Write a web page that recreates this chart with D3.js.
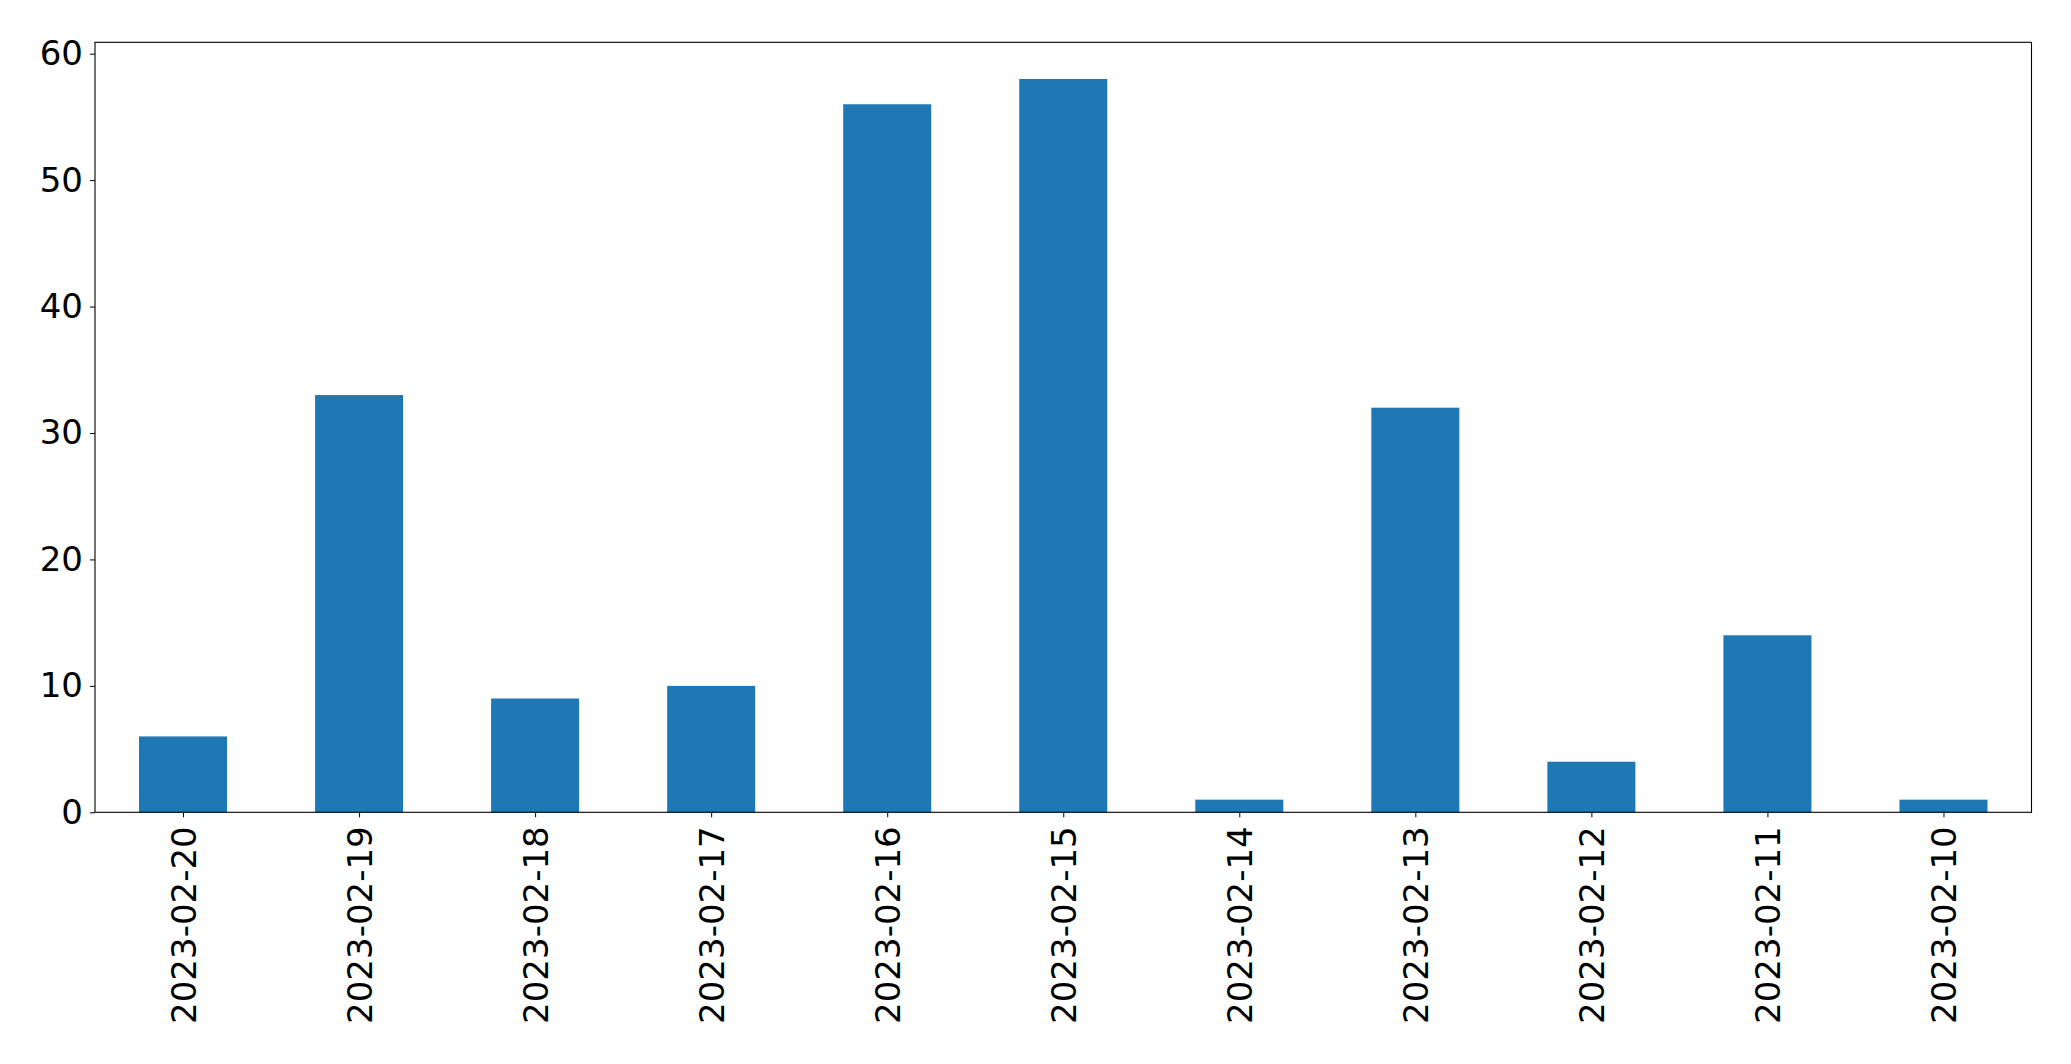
<!DOCTYPE html>
<html><head><meta charset="utf-8">
<script src="https://cdn.jsdelivr.net/npm/d3@7"></script>
<style>body{margin:0;background:#fff;} svg{display:block;}</style>
</head><body>
<svg id="chart" width="2071" height="1064"></svg>
<script>
const categories = ["2023-02-20","2023-02-19","2023-02-18","2023-02-17","2023-02-16","2023-02-15","2023-02-14","2023-02-13","2023-02-12","2023-02-11","2023-02-10"];
const values = [6, 33, 9, 10, 56, 58, 1, 32, 4, 14, 1];
const yTicks = [0, 10, 20, 30, 40, 50, 60];

const W = 2071, H = 1064;
const L = 95, R = 2031.5, T = 42.3, B = 812.3;
const fontSize = "34px";
const font = "DejaVu Sans, sans-serif";
const svg = d3.select("#chart");

const x = d3.scaleLinear().domain([-0.5, categories.length - 0.5]).range([L, R]);
const y = d3.scaleLinear().domain([0, d3.max(values) * 1.05]).range([B, T]);

svg.append("g").selectAll("rect").data(values).join("rect")
  .attr("x", (d, i) => x(i - 0.25))
  .attr("width", (d, i) => x(i + 0.25) - x(i - 0.25))
  .attr("y", d => y(d))
  .attr("height", d => y(0) - y(d))
  .attr("fill", "#1f77b4");

const yAxis = svg.append("g").attr("transform", `translate(${L},0)`)
  .call(d3.axisLeft(y).tickValues(yTicks).tickFormat(d3.format("d")).tickSize(5).tickPadding(7));
yAxis.select(".domain").remove();
yAxis.selectAll("text").attr("font-size", fontSize).attr("font-family", font).attr("fill", "#000");
yAxis.selectAll("line").attr("stroke", "#000");

const xAxis = svg.append("g").attr("transform", `translate(0,${B})`)
  .call(d3.axisBottom(x).tickValues(d3.range(categories.length)).tickFormat(i => categories[i]).tickSize(5));
xAxis.select(".domain").remove();
xAxis.selectAll("line").attr("stroke", "#000");
xAxis.selectAll("text")
  .attr("font-size", fontSize).attr("font-family", font).attr("fill", "#000")
  .attr("text-anchor", "end")
  .attr("transform", "translate(0,14) rotate(-90)")
  .attr("x", 0).attr("y", 0).attr("dy", "0.36em");

svg.append("rect").attr("x", L).attr("y", T).attr("width", R - L).attr("height", B - T)
  .attr("fill", "none").attr("stroke", "#000").attr("stroke-width", 1.1);
</script>
</body></html>
